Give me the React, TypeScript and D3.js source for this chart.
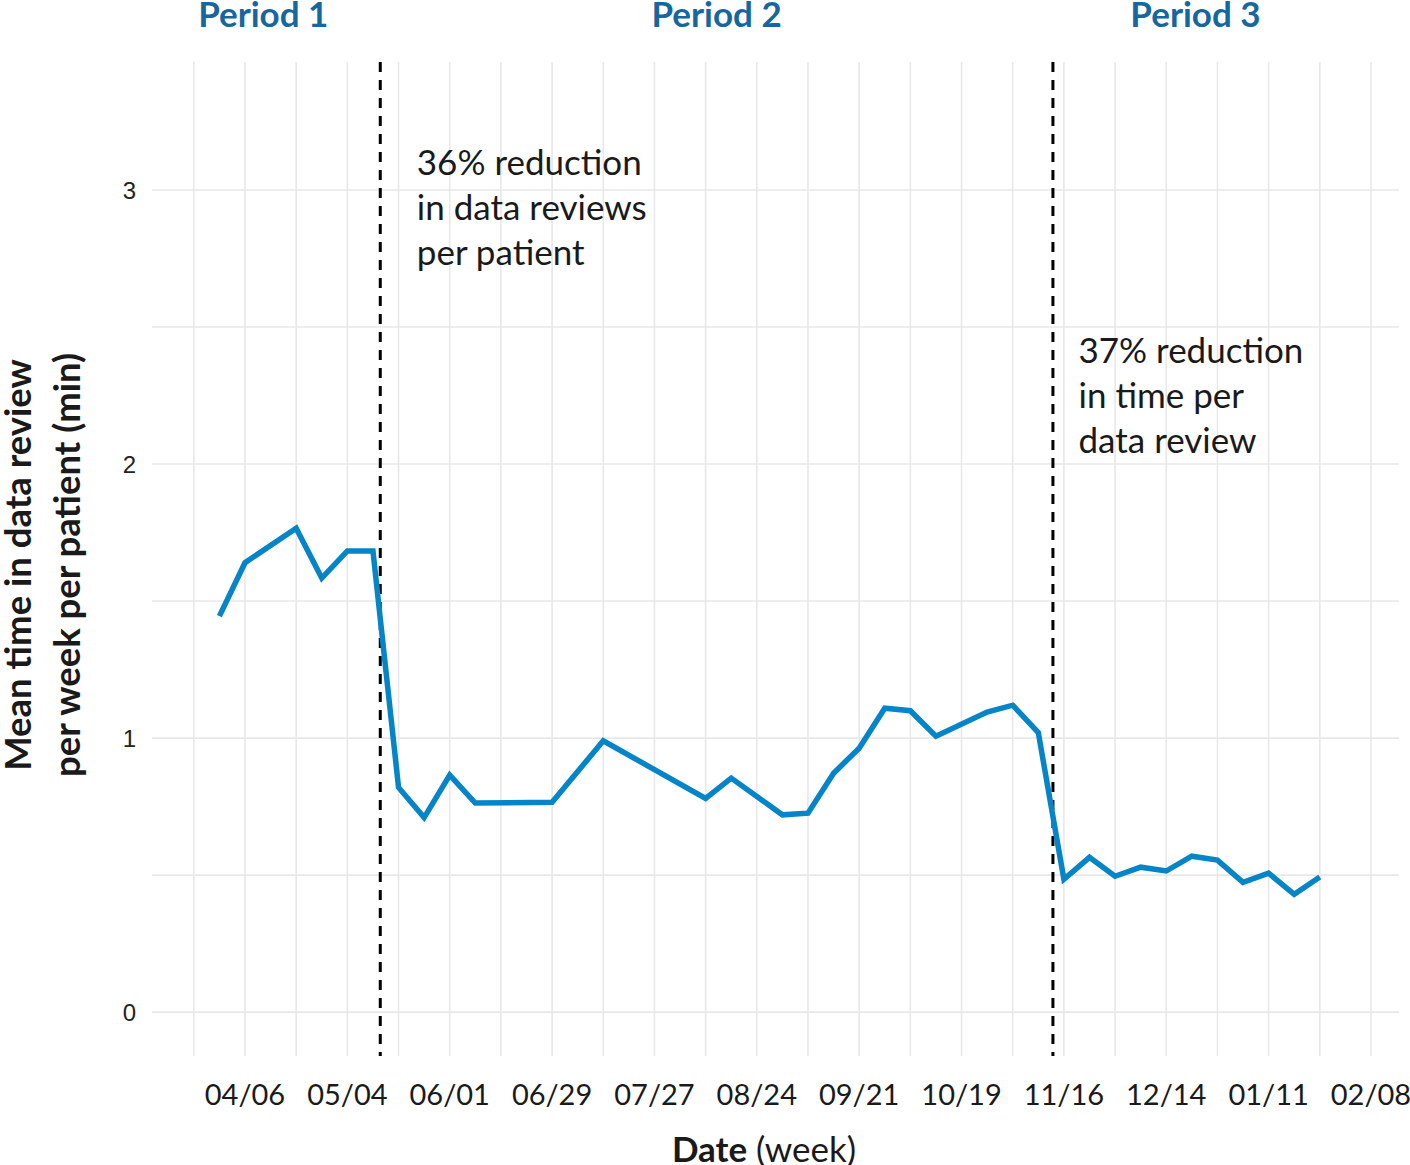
import React from "react";
import * as d3 from "d3";

const weekDates = [
  "2020-03-30", "2020-04-06", "2020-04-20", "2020-04-27", "2020-05-04", "2020-05-11",
  "2020-05-18", "2020-05-25", "2020-06-01", "2020-06-08", "2020-06-29", "2020-07-13",
  "2020-08-10", "2020-08-17", "2020-08-31", "2020-09-07", "2020-09-14", "2020-09-21",
  "2020-09-28", "2020-10-05", "2020-10-12", "2020-10-26", "2020-11-02", "2020-11-09",
  "2020-11-16", "2020-11-23", "2020-11-30", "2020-12-07", "2020-12-14", "2020-12-21",
  "2020-12-28", "2021-01-04", "2021-01-11", "2021-01-18", "2021-01-25",
];
const meanTime = [
  1.445, 1.64, 1.766, 1.584, 1.683, 1.683,
  0.82, 0.71, 0.865, 0.763, 0.766, 0.99,
  0.78, 0.854, 0.72, 0.726, 0.872, 0.963,
  1.109, 1.1, 1.007, 1.095, 1.12, 1.02,
  0.485, 0.565, 0.496, 0.529, 0.515, 0.569,
  0.555, 0.474, 0.507, 0.43, 0.493,
];
const periodBreaks = ["2020-05-13", "2020-11-13"];
const periodLabels = ["Period 1", "Period 2", "Period 3"];
const periodLabelDates = ["2020-04-11", "2020-08-13", "2020-12-22"];
const yTicks = [0, 1, 2, 3];
const yGrid = [0, 0.5, 1, 1.5, 2, 2.5, 3];
const annotations = [
  { date: "2020-05-23", value: 3.055, lines: ["36% reduction", "in data reviews", "per patient"] },
  { date: "2020-11-20", value: 2.368, lines: ["37% reduction", "in time per", "data review"] },
];

const W = 1410;
const H = 1165;
const left = 152, right = 1399, top = 62, bottom = 1056;
const FONT = "Lato, 'Noto Sans', sans-serif";

const d = (s: string) => new Date(s + "T00:00:00Z");

export default function App() {
  const x = d3
    .scaleUtc()
    .domain([new Date(Date.UTC(2020, 2, 11, 13, 26)), new Date(Date.UTC(2021, 1, 15, 16, 0))])
    .range([left, right]);
  const y = d3.scaleLinear().domain([-0.16, 3.467]).range([bottom, top]);

  const gridDates = d3.utcMonday.range(d("2020-03-23"), d("2021-02-09"), 2);
  const labelDates = d3.utcMonday.range(d("2020-04-06"), d("2021-02-09"), 4);
  const fmt = d3.utcFormat("%m/%d");

  const pts = weekDates.map((s, i) => ({ date: d(s), v: meanTime[i] }));
  const line = d3
    .line<{ date: Date; v: number }>()
    .x((p) => x(p.date))
    .y((p) => y(p.v));

  return (
    <svg width={W} height={H} style={{ position: "absolute", left: 0, top: 0, background: "#fff" }}>
      <g>
        {yGrid.map((v) => (
          <line key={"h" + v} x1={left} x2={right} y1={y(v)} y2={y(v)} stroke="#e8e8e8" strokeWidth={1.6} />
        ))}
        {gridDates.map((g) => (
          <line key={"v" + g.toISOString()} x1={x(g)} x2={x(g)} y1={top} y2={bottom} stroke="#e8e8e8" strokeWidth={1.6} />
        ))}
      </g>
      {periodBreaks.map((s) => (
        <line key={s} x1={x(d(s))} x2={x(d(s))} y1={top} y2={bottom} stroke="#000" strokeWidth={3} strokeDasharray="10,8" />
      ))}
      <path d={line(pts) || ""} fill="none" stroke="#0584c7" strokeWidth={5.5} strokeLinejoin="miter" />
      {yTicks.map((v) => (
        <text key={"yt" + v} x={136} y={y(v)} dy="0.36em" textAnchor="end" fontFamily="'Liberation Sans', Arial, sans-serif" fontSize={24} fill="#222">
          {v}
        </text>
      ))}
      {labelDates.map((g) => (
        <text key={"xl" + g.toISOString()} x={x(g)} y={1105} textAnchor="middle" fontFamily={FONT} fontSize={29} fill="#1a1a1a">
          {fmt(g)}
        </text>
      ))}
      {periodLabels.map((p, i) => (
        <text key={p} x={x(d(periodLabelDates[i]))} y={27} textAnchor="middle" fontFamily={FONT} fontWeight="bold" fontSize={35} fill="#16669f">
          {p}
        </text>
      ))}
      {annotations.map((a, i) => (
        <text key={"an" + i} x={x(d(a.date))} y={y(a.value)} fontFamily={FONT} fontSize={35} fill="#1a1a1a">
          {a.lines.map((l, j) => (
            <tspan key={j} x={x(d(a.date))} dy={j === 0 ? 0 : 45}>
              {l}
            </tspan>
          ))}
        </text>
      ))}
      <text x={764} y={1162} textAnchor="middle" fontFamily={FONT} fontSize={35} fill="#1a1a1a">
        <tspan fontWeight="bold">Date</tspan> (week)
      </text>
      <g transform="translate(0,565) rotate(-90)">
        <text x={0} y={31} textAnchor="middle" fontFamily={FONT} fontWeight="bold" fontSize={36.5} fill="#1a1a1a">
          Mean time in data review
        </text>
        <text x={0} y={80} textAnchor="middle" fontFamily={FONT} fontWeight="bold" fontSize={36.5} fill="#1a1a1a">
          per week per patient (min)
        </text>
      </g>
    </svg>
  );
}
